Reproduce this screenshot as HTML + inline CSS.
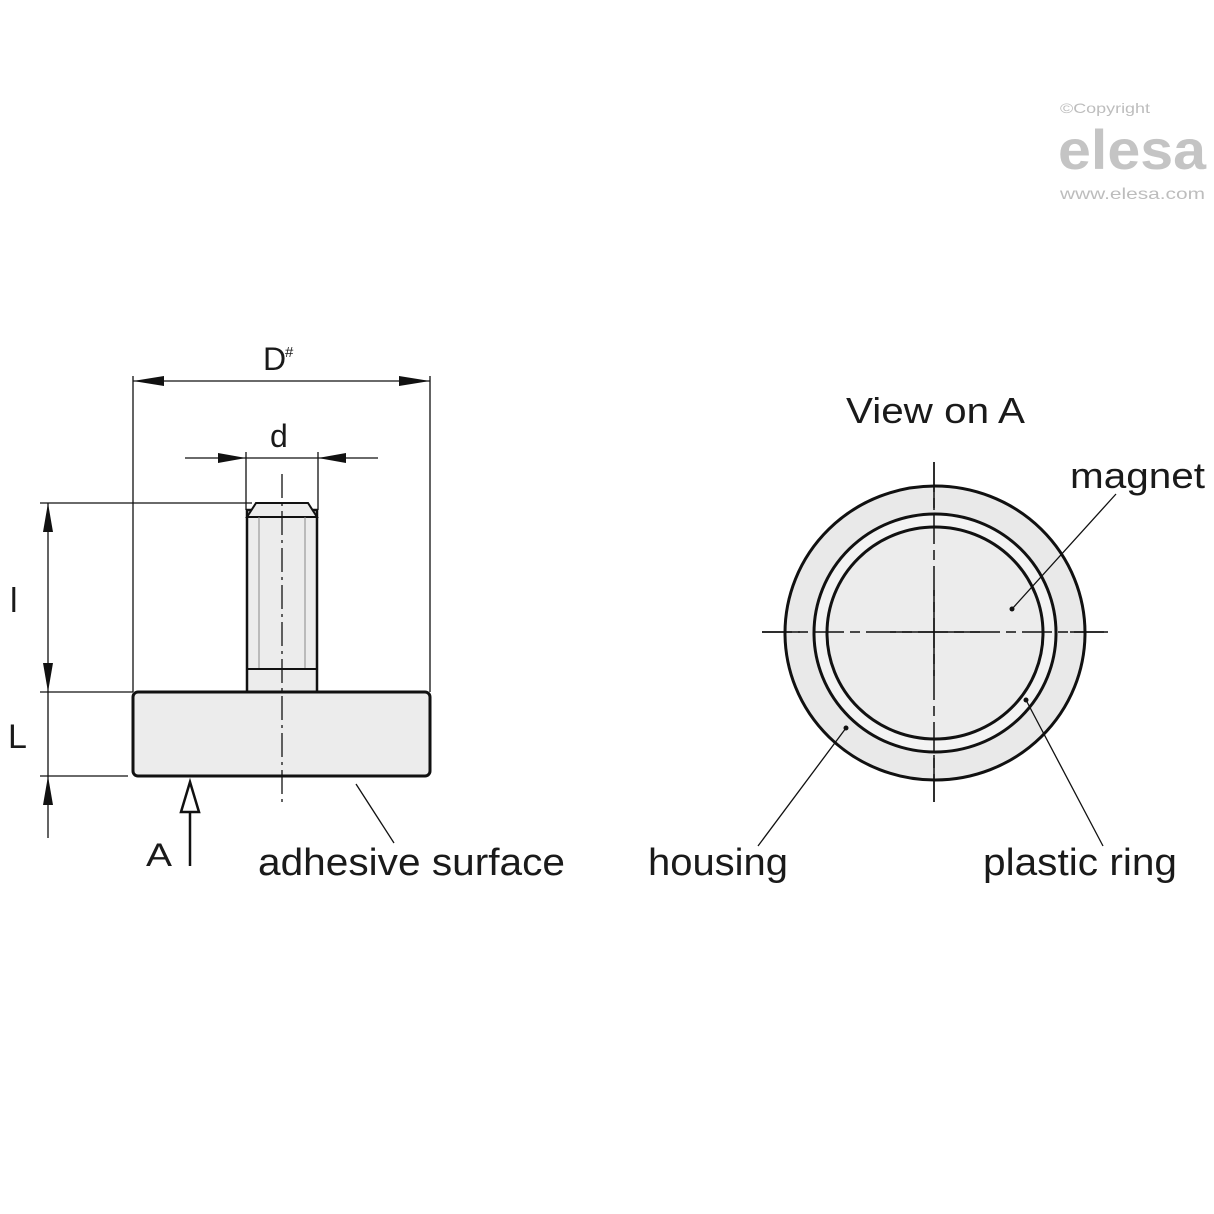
<!DOCTYPE html>
<html><head><style>
html,body{margin:0;padding:0;background:#fff;}
svg{display:block}
text{font-family:"Liberation Sans",Arial,sans-serif;fill:#1a1a1a}
</style></head><body>
<svg width="1214" height="1214" viewBox="0 0 1214 1214" xmlns="http://www.w3.org/2000/svg">
<!-- logo -->
<text x="1060" y="113" font-size="14" textLength="90" lengthAdjust="spacingAndGlyphs" style="fill:#bdbdbd">©Copyright</text>
<text x="1058" y="169" font-size="56" font-weight="bold" textLength="148" lengthAdjust="spacingAndGlyphs" style="fill:#c4c4c4">elesa</text>
<text x="1060" y="199" font-size="16" textLength="145" lengthAdjust="spacingAndGlyphs" style="fill:#bdbdbd">www.elesa.com</text>

<g stroke="#111" fill="none" stroke-width="1.3">
<line x1="133" y1="381" x2="430" y2="381"/>
<line x1="133" y1="376" x2="133" y2="692"/>
<line x1="430" y1="376" x2="430" y2="692"/>
<line x1="185" y1="458" x2="378" y2="458"/>
<line x1="246" y1="452" x2="246" y2="510"/>
<line x1="318" y1="452" x2="318" y2="510"/>
<line x1="40" y1="503" x2="252" y2="503"/>
<line x1="48" y1="503" x2="48" y2="692"/>
<line x1="40" y1="692" x2="133" y2="692"/>
<line x1="40" y1="776" x2="128" y2="776"/>
<line x1="48" y1="692" x2="48" y2="776"/>
<line x1="48" y1="776" x2="48" y2="838"/>
<line x1="356" y1="784" x2="394" y2="843"/>
</g>
<g fill="#111">
<polygon points="133,381 164,376 164,386"/>
<polygon points="430,381 399,376 399,386"/>
<polygon points="246,458 218,453 218,463"/>
<polygon points="318,458 346,453 346,463"/>
<polygon points="48,503 43,532 53,532"/>
<polygon points="48,692 43,663 53,663"/>
<polygon points="48,776 43,805 53,805"/>
</g>
<!-- stem -->
<rect x="247" y="510" width="70" height="182" fill="#ececec" stroke="#111" stroke-width="2.5"/>
<polygon points="247,517 256,503 308,503 317,517" fill="#ececec" stroke="#111" stroke-width="2"/>
<line x1="247" y1="517" x2="317" y2="517" stroke="#111" stroke-width="1.5"/>
<line x1="259" y1="517" x2="259" y2="669" stroke="#888" stroke-width="1"/>
<line x1="305" y1="517" x2="305" y2="669" stroke="#888" stroke-width="1"/>
<line x1="247" y1="669" x2="317" y2="669" stroke="#111" stroke-width="2"/>
<!-- base -->
<rect x="133" y="692" width="297" height="84" rx="5" fill="#ececec" stroke="#111" stroke-width="3"/>
<line x1="282" y1="474" x2="282" y2="806" stroke="#111" stroke-width="1.3" stroke-dasharray="24,5,3,5"/>
<!-- arrow A -->
<line x1="190" y1="812" x2="190" y2="866" stroke="#111" stroke-width="2.5"/>
<polygon points="190,782 181,812 199,812" fill="#fff" stroke="#111" stroke-width="2.5"/>
<text x="146" y="866" font-size="32" textLength="26" lengthAdjust="spacingAndGlyphs">A</text>
<text x="10" y="612" font-size="34">l</text>
<text x="8" y="748" font-size="34">L</text>
<text x="270" y="447" font-size="32">d</text>
<text x="263" y="370" font-size="32">D</text>
<text x="285" y="357" font-size="15">#</text>
<text x="258" y="875" font-size="38" textLength="307" lengthAdjust="spacingAndGlyphs">adhesive surface</text>

<!-- right view -->
<ellipse cx="935" cy="633" rx="150" ry="147" fill="#e9e9e9" stroke="#111" stroke-width="3"/>
<ellipse cx="935" cy="633" rx="121" ry="119" fill="#f3f3f3" stroke="#111" stroke-width="3"/>
<ellipse cx="935" cy="633" rx="108" ry="106" fill="#ececec" stroke="#111" stroke-width="3"/>
<line x1="762" y1="632" x2="1108" y2="632" stroke="#111" stroke-width="1.5" stroke-dasharray="30,6,10,6"/>
<line x1="762" y1="632" x2="800" y2="632" stroke="#111" stroke-width="1.5"/>
<line x1="890" y1="632" x2="980" y2="632" stroke="#111" stroke-width="1.5"/>
<line x1="1070" y1="632" x2="1108" y2="632" stroke="#111" stroke-width="1.5"/>
<line x1="934" y1="462" x2="934" y2="802" stroke="#111" stroke-width="1.5" stroke-dasharray="30,6,10,6"/>
<line x1="934" y1="462" x2="934" y2="510" stroke="#111" stroke-width="1.5"/>
<line x1="934" y1="590" x2="934" y2="676" stroke="#111" stroke-width="1.5"/>
<line x1="934" y1="755" x2="934" y2="802" stroke="#111" stroke-width="1.5"/>
<g stroke="#111" stroke-width="1.3">
<line x1="1012" y1="609" x2="1116" y2="494"/>
<line x1="846" y1="728" x2="758" y2="846"/>
<line x1="1026" y1="700" x2="1103" y2="846"/>
</g>
<g fill="#111">
<circle cx="1012" cy="609" r="2.5"/>
<circle cx="846" cy="728" r="2.5"/>
<circle cx="1026" cy="700" r="2.5"/>
</g>
<text x="846" y="423" font-size="36" textLength="179" lengthAdjust="spacingAndGlyphs">View on A</text>
<text x="1070" y="488" font-size="36" textLength="135" lengthAdjust="spacingAndGlyphs">magnet</text>
<text x="648" y="875" font-size="38" textLength="140" lengthAdjust="spacingAndGlyphs">housing</text>
<text x="983" y="875" font-size="38" textLength="194" lengthAdjust="spacingAndGlyphs">plastic ring</text>
</svg>
</body></html>
